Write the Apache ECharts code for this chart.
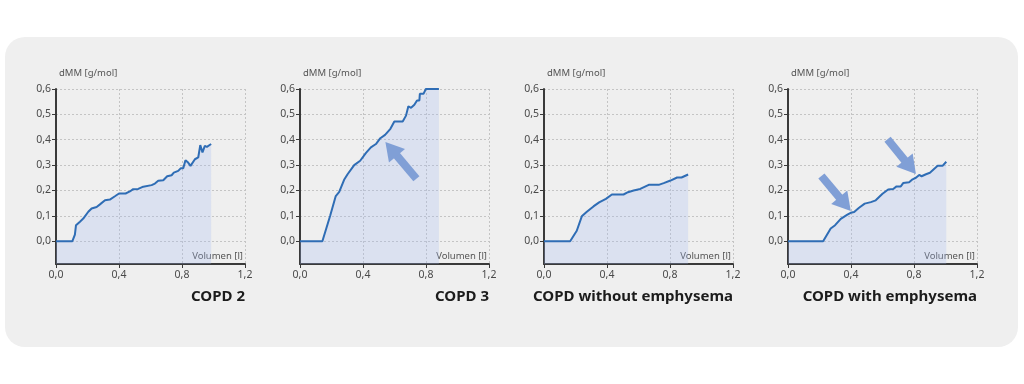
<!DOCTYPE html>
<html>
<head>
<meta charset="utf-8">
<style>
html,body{margin:0;padding:0;background:#ffffff;}
#chart{width:1024px;height:384px;}
</style>
<script src="https://cdn.jsdelivr.net/npm/echarts@6/dist/echarts.min.js"></script>
</head>
<body>
<div id="chart"></div>
<script>
// ---- data ----
var titles = ['COPD 2', 'COPD 3', 'COPD without emphysema', 'COPD with emphysema'];
var yTicks = [0, 0.1, 0.2, 0.3, 0.4, 0.5, 0.6];
var xTicks = [0, 0.4, 0.8, 1.2];
var yName = 'dMM [g/mol]';
var xName = 'Volumen [l]';

var copd2 = [[0,0],[0.104,0],[0.12,0.026],[0.127,0.063],[0.152,0.077],[0.173,0.089],[0.205,0.116],[0.226,0.129],[0.258,0.135],[0.279,0.145],[0.311,0.161],[0.342,0.164],[0.374,0.177],[0.40,0.188],[0.442,0.188],[0.469,0.196],[0.490,0.205],[0.522,0.206],[0.554,0.215],[0.607,0.221],[0.628,0.227],[0.649,0.238],[0.681,0.240],[0.706,0.256],[0.734,0.260],[0.748,0.270],[0.776,0.277],[0.793,0.288],[0.808,0.288],[0.822,0.319],[0.839,0.310],[0.854,0.297],[0.882,0.323],[0.903,0.330],[0.916,0.379],[0.93,0.350],[0.945,0.376],[0.958,0.372],[0.97,0.376],[0.985,0.383]];
var copd3 = [[0,0],[0.142,0],[0.191,0.099],[0.227,0.178],[0.249,0.194],[0.280,0.242],[0.302,0.264],[0.344,0.300],[0.382,0.317],[0.419,0.348],[0.450,0.370],[0.482,0.383],[0.510,0.406],[0.540,0.419],[0.574,0.443],[0.599,0.472],[0.652,0.472],[0.673,0.495],[0.688,0.532],[0.705,0.526],[0.726,0.538],[0.743,0.555],[0.758,0.555],[0.761,0.581],[0.784,0.581],[0.799,0.600],[0.882,0.600]];
var copdNoEmph = [[0,0],[0.166,0],[0.208,0.041],[0.240,0.098],[0.272,0.116],[0.314,0.137],[0.350,0.153],[0.393,0.167],[0.431,0.184],[0.505,0.184],[0.533,0.193],[0.569,0.200],[0.611,0.206],[0.665,0.222],[0.728,0.222],[0.760,0.229],[0.803,0.239],[0.845,0.251],[0.873,0.251],[0.915,0.263]];
var copdEmph = [[0,0],[0.223,0],[0.271,0.050],[0.299,0.063],[0.335,0.088],[0.377,0.105],[0.398,0.112],[0.420,0.115],[0.451,0.132],[0.487,0.148],[0.526,0.154],[0.557,0.161],[0.600,0.187],[0.636,0.204],[0.668,0.206],[0.689,0.216],[0.716,0.216],[0.731,0.229],[0.769,0.232],[0.791,0.244],[0.812,0.250],[0.833,0.261],[0.848,0.256],[0.876,0.264],[0.901,0.270],[0.950,0.297],[0.981,0.297],[1.005,0.313]];

// annotation arrows (tail -> head) in data units, per panel
var arrows2 = [[[0.739, 0.246], [0.579, 0.364]]];
var arrows4 = [[[0.212, 0.257], [0.362, 0.146]], [[0.632, 0.402], [0.776, 0.292]]];

var seriesData = [copd2, copd3, copdNoEmph, copdEmph];
var arrowData = [[], arrows2, [], arrows4];

// ---- layout / style ----
var lefts = [56, 300, 544, 788];
var gridW = 189, gridTop = 89, gridH = 175;
var font = 'Noto Sans';
var fmt = function (v) { return v.toFixed(1).replace('.', ','); };

var grids = [], xAxes = [], yAxes = [], series = [], titleOpts = [];
for (var i = 0; i < 4; i++) {
  grids.push({ left: lefts[i], top: gridTop, width: gridW, height: gridH, containLabel: false });
  xAxes.push({
    type: 'value', gridIndex: i, min: 0, max: 1.2, interval: 0.4,
    name: xName, nameLocation: 'end', nameGap: -2,
    nameTextStyle: { fontFamily: font, fontSize: 9.5, color: '#555', align: 'right', verticalAlign: 'bottom', padding: [0, 0, 3, 0] },
    axisLine: { onZero: false, lineStyle: { color: '#3a3a3a', width: 2 } },
    axisTick: { show: true, length: 4, lineStyle: { color: '#3a3a3a', width: 1 }, customValues: xTicks },
    axisLabel: { fontFamily: font, fontSize: 10.5, color: '#4a4a4a', margin: 6, formatter: fmt, customValues: xTicks },
    splitLine: { show: true, lineStyle: { color: '#c4c4c4', type: [2, 2], width: 1 } }
  });
  yAxes.push({
    type: 'value', gridIndex: i, min: -0.09, max: 0.6,
    name: yName, nameLocation: 'end', nameGap: 11,
    nameTextStyle: { fontFamily: font, fontSize: 9.5, color: '#555', align: 'left', padding: [0, 0, 0, 3] },
    axisLine: { show: true, onZero: false, lineStyle: { color: '#3a3a3a', width: 2 } },
    axisTick: { show: true, length: 4, lineStyle: { color: '#3a3a3a', width: 1 }, customValues: yTicks },
    axisLabel: { fontFamily: font, fontSize: 10.5, color: '#4a4a4a', margin: 5, formatter: fmt, customValues: yTicks },
    splitLine: { show: true, lineStyle: { color: '#c4c4c4', type: [2, 2], width: 1 } }
  });
  var ml = undefined;
  if (arrowData[i].length) {
    ml = {
      silent: true, animation: false,
      symbol: ['none', 'triangle'], symbolSize: [21, 18],
      label: { show: false },
      lineStyle: { color: '#809fd6', width: 8, type: 'solid', opacity: 1 },
      emphasis: { disabled: true },
      data: arrowData[i].map(function (a) { return [{ coord: a[0] }, { coord: a[1] }]; })
    };
  }
  series.push({
    type: 'line', xAxisIndex: i, yAxisIndex: i, data: seriesData[i],
    showSymbol: false, symbol: 'none', smooth: false,
    lineStyle: { color: '#2f6db5', width: 2 },
    areaStyle: { origin: 'start', color: 'rgba(160,185,245,0.36)' },
    markLine: ml, animation: false
  });
  titleOpts.push({
    text: titles[i], right: 1024 - (lefts[i] + gridW), top: 289, padding: 0,
    textStyle: { fontFamily: font, fontSize: 15, fontWeight: 'bold', color: '#1c1c1c' }
  });
}

var chart = echarts.init(document.getElementById('chart'), null, { renderer: 'canvas' });
chart.setOption({
  backgroundColor: '#ffffff',
  animation: false,
  graphic: [{
    type: 'rect', z: -10, silent: true,
    shape: { x: 5, y: 37, width: 1013, height: 310, r: 20 },
    style: { fill: '#efefef' }
  }],
  title: titleOpts,
  grid: grids,
  xAxis: xAxes,
  yAxis: yAxes,
  series: series
});
</script>
</body>
</html>
